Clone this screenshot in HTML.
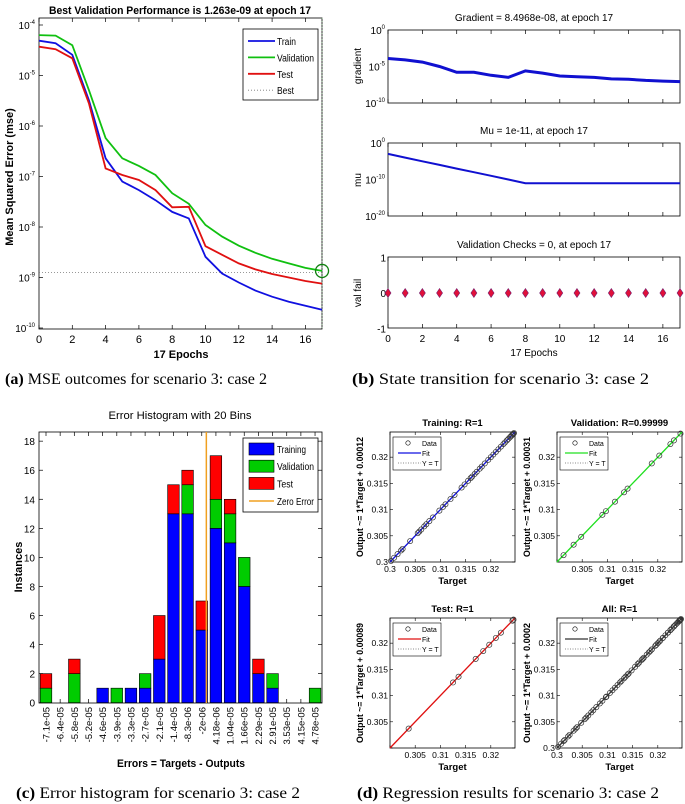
<!DOCTYPE html>
<html><head><meta charset="utf-8">
<style>
html,body{margin:0;padding:0;background:#fff;}
svg{display:block;font-family:"Liberation Sans",sans-serif;}
.cap{font-family:"Liberation Serif",serif;font-size:16px;fill:#000;}
</style></head>
<body>
<svg id="fig" width="685" height="804" viewBox="0 0 685 804" xmlns="http://www.w3.org/2000/svg">
<text class="cap" x="5" y="384" textLength="262" lengthAdjust="spacingAndGlyphs"><tspan font-weight="bold">(a)</tspan> MSE outcomes for scenario 3: case 2</text>
<text class="cap" x="352" y="384" textLength="297" lengthAdjust="spacingAndGlyphs"><tspan font-weight="bold">(b)</tspan> State transition for scenario 3: case 2</text>
<text class="cap" x="16" y="798" textLength="284" lengthAdjust="spacingAndGlyphs"><tspan font-weight="bold">(c)</tspan> Error histogram for scenario 3: case 2</text>
<text class="cap" x="357" y="798" textLength="302" lengthAdjust="spacingAndGlyphs"><tspan font-weight="bold">(d)</tspan> Regression results for scenario 3: case 2</text>
</svg>
<script>
// ---- (a) MSE data (log10 values) ----
const epochs = [0,1,2,3,4,5,6,7,8,9,10,11,12,13,14,15,16,17];
const trainLog = [-4.31,-4.36,-4.59,-5.49,-6.64,-7.10,-7.27,-7.47,-7.70,-7.83,-8.59,-8.92,-9.10,-9.26,-9.38,-9.48,-9.56,-9.64];
const valLog = [-4.20,-4.21,-4.40,-5.29,-6.24,-6.64,-6.79,-6.97,-7.33,-7.54,-7.96,-8.19,-8.37,-8.51,-8.63,-8.72,-8.81,-8.87];
const testLog = [-4.43,-4.48,-4.66,-5.55,-6.84,-6.97,-7.07,-7.27,-7.61,-7.60,-8.38,-8.55,-8.72,-8.84,-8.93,-9.00,-9.07,-9.12];
const bestLog = -8.899;
const bestEpoch = 17;
const mseTicksY = [-4,-5,-6,-7,-8,-9,-10];
const epochTicks = [0,2,4,6,8,10,12,14,16];
// ---- (b) state data ----
const gradLog = [-3.9,-4.1,-4.4,-5.0,-5.8,-5.8,-6.2,-6.5,-5.6,-5.9,-6.3,-6.4,-6.5,-6.7,-6.75,-6.9,-7.0,-7.07];
const muLog = [-3,-4,-5,-6,-7,-8,-9,-10,-11,-11,-11,-11,-11,-11,-11,-11,-11,-11];
const valFail = [0,0,0,0,0,0,0,0,0,0,0,0,0,0,0,0,0,0];
// ---- (c) histogram ----
const binLabels = ["-7.1e-05","-6.4e-05","-5.8e-05","-5.2e-05","-4.6e-05","-3.9e-05","-3.3e-05","-2.7e-05","-2.1e-05","-1.4e-05","-8.3e-06","-2e-06","4.18e-06","1.04e-05","1.66e-05","2.29e-05","2.91e-05","3.53e-05","4.15e-05","4.78e-05"];
const binCenters = [-7.1e-5,-6.4e-5,-5.8e-5,-5.2e-5,-4.6e-5,-3.9e-5,-3.3e-5,-2.7e-5,-2.1e-5,-1.4e-5,-8.3e-6,-2e-6,4.18e-6,1.04e-5,1.66e-5,2.29e-5,2.91e-5,3.53e-5,4.15e-5,4.78e-5];
const histTrain = [0,0,0,0,1,0,1,1,3,13,13,5,12,11,8,2,1,0,0,0];
const histVal =   [1,0,2,0,0,1,0,1,0,0,2,0,2,2,2,0,1,0,0,1];
const histTest =  [1,0,1,0,0,0,0,0,3,2,1,2,3,1,0,1,0,0,0,0];
const histTicksY = [0,2,4,6,8,10,12,14,16,18];
// ---- (d) regression ----
const regTicks = [0.3,0.305,0.31,0.315,0.32];
const trainTargets = [0.3002,0.3008,0.3015,0.3022,0.3025,0.3040,0.3055,0.3058,0.3062,0.3068,0.3072,0.3078,0.3085,0.3098,0.3105,0.3110,0.3120,0.3128,0.3142,0.3148,0.3155,0.3160,0.3163,0.3168,0.3172,0.3178,0.3182,0.3188,0.3195,0.3200,0.3205,0.3210,0.3215,0.3220,0.3225,0.3228,0.3232,0.3235,0.3238,0.3240,0.3242,0.3244,0.3245,0.3246];
const valTargets = [0.3013,0.3033,0.3048,0.3090,0.3097,0.3115,0.3133,0.3140,0.3188,0.3203,0.3225,0.3232,0.3245];
const testTargets = [0.3037,0.3125,0.3136,0.3170,0.3185,0.3197,0.3210,0.3220,0.3243,0.3245];

const NS = "http://www.w3.org/2000/svg";
const fig = document.getElementById('fig');
function mk(tag, attrs, parent){
  const e = document.createElementNS(NS, tag);
  for (const k in attrs) e.setAttribute(k, attrs[k]);
  (parent||fig).appendChild(e);
  return e;
}
function nm(el, name){
  
  
  return el;
}
function txt(x,y,s,size,opts){
  const o = Object.assign({x:x,y:y,'font-size':size,fill:'#000'}, opts||{});
  const t = mk('text', o);
  t.textContent = s;
  return t;
}
function pow10(x,y,exp,name){
  const t = mk('text',{x:x,y:y,'font-size':10,'text-anchor':'end',fill:'#000'});
  t.textContent = '10';
  const s = mk('tspan',{dy:-5,'font-size':6},t);
  s.textContent = exp;
  nm(t, name);
  return t;
}
function box(x0,y0,x1,y1,name){
  const r = mk('rect',{x:x0,y:y0,width:x1-x0,height:y1-y0,fill:'none',stroke:'#000','stroke-width':0.8});
  nm(r, name);
}

// ================= (a) =================
const aX = e => 39 + e*16.65;
const aY = l => 25 + (-4 - l)*50.5;
{
  nm(mk('g',{}), 'mse-chart');
  box(39,18,322,329,'mse-plot-area');
  for (const e of epochTicks){
    nm(mk('line',{x1:aX(e),x2:aX(e),y1:329,y2:325,stroke:'#000','stroke-width':0.7}),'x-tick');
    nm(mk('line',{x1:aX(e),x2:aX(e),y1:18,y2:22,stroke:'#000','stroke-width':0.7}),'x-tick-top');
    nm(txt(aX(e),343,String(e),11,{'text-anchor':'middle'}),'x-tick-label');
  }
  for (const l of mseTicksY){
    nm(mk('line',{x1:39,x2:43,y1:aY(l),y2:aY(l),stroke:'#000','stroke-width':0.7}),'y-tick');
    pow10(35,aY(l)+4,String(l),'y-tick-label');
  }
  nm(mk('line',{x1:39,x2:322,y1:aY(bestLog),y2:aY(bestLog),stroke:'#777','stroke-width':0.8,'stroke-dasharray':'1,2'}),'best-horizontal-line');
  nm(mk('line',{x1:aX(bestEpoch),x2:aX(bestEpoch),y1:18,y2:329,stroke:'#7a7','stroke-width':0.8,'stroke-dasharray':'1,2'}),'best-vertical-line');
  const series = [[trainLog,'#1010e0','train-line'],[valLog,'#10c010','validation-line'],[testLog,'#e01010','test-line']];
  for (const [d,c,n] of series){
    const pts = d.map((v,i)=>aX(epochs[i]).toFixed(1)+','+aY(v).toFixed(1)).join(' ');
    nm(mk('polyline',{points:pts,fill:'none',stroke:c,'stroke-width':1.8}),n);
  }
  nm(mk('circle',{cx:aX(bestEpoch),cy:aY(valLog[17]),r:6.5,fill:'none',stroke:'#108010','stroke-width':1.3}),'best-marker');
  nm(txt(180,14,'Best Validation Performance is 1.263e-09 at epoch 17',11,{'text-anchor':'middle','font-weight':'bold',textLength:262,lengthAdjust:'spacingAndGlyphs'}),'mse-title');
  nm(txt(181,358,'17 Epochs',11,{'text-anchor':'middle','font-weight':'bold'}),'x-axis-title');
  nm(txt(0,0,'Mean Squared Error  (mse)',11,{'text-anchor':'middle','font-weight':'bold',transform:'translate(13,177) rotate(-90)'}),'y-axis-title');
  box(243,29,318,100,'mse-legend');
  const leg = [['Train','#1010e0','',19],['Validation','#10c010','',37],['Test','#e01010','',16],['Best','#777','1,2',17]];
  leg.forEach((L,i)=>{
    const y = 41 + i*16.4;
    const ln = mk('line',{x1:248,x2:275,y1:y,y2:y,stroke:L[1],'stroke-width':L[2]?0.8:1.8});
    if (L[2]) ln.setAttribute('stroke-dasharray',L[2]);
    nm(ln,'legend-line');
    nm(txt(277,y+4,L[0],10,{textLength:L[3],lengthAdjust:'spacingAndGlyphs'}),'legend-entry');
  });
}

// ================= (b) =================
const bX = e => 388 + e*17.18;
const gY = l => 30 + (-l)*7.3;
const mY = l => 143 + (-l)*3.65;
const vY = v => 293 - v*35.5;
{
  nm(mk('g',{}),'state-chart');
  const panels = [[30,103,'gradient-panel'],[143,216,'mu-panel'],[257,328,'val-fail-panel']];
  for (const [t,b,n] of panels){
    box(388,t,680,b,n);
    for (let e=0;e<=16;e+=2){
      nm(mk('line',{x1:bX(e),x2:bX(e),y1:b,y2:b-4,stroke:'#000','stroke-width':0.7}),'x-tick');
      nm(mk('line',{x1:bX(e),x2:bX(e),y1:t,y2:t+4,stroke:'#000','stroke-width':0.7}),'x-tick-top');
    }
  }
  for (let e=0;e<=16;e+=2) nm(txt(bX(e),342,String(e),10,{'text-anchor':'middle'}),'x-tick-label');
  nm(txt(534,356,'17 Epochs',10,{'text-anchor':'middle'}),'x-axis-title');
  [0,-5,-10].forEach(l=>pow10(385,gY(l)+4,String(l),'gradient-tick-label'));
  [0,-10,-20].forEach(l=>pow10(385,mY(l)+4,String(l),'mu-tick-label'));
  [1,0,-1].forEach(v=>nm(txt(386,vY(v)+4,String(v),10,{'text-anchor':'end'}),'val-tick-label'));
  nm(txt(534,21,'Gradient = 8.4968e-08, at epoch 17',10,{'text-anchor':'middle'}),'gradient-title');
  nm(txt(534,134,'Mu = 1e-11, at epoch 17',10,{'text-anchor':'middle'}),'mu-title');
  nm(txt(534,248,'Validation Checks = 0, at epoch 17',10,{'text-anchor':'middle'}),'val-title');
  nm(txt(0,0,'gradient',10,{'text-anchor':'middle',transform:'translate(361,66) rotate(-90)'}),'gradient-axis-title');
  nm(txt(0,0,'mu',10,{'text-anchor':'middle',transform:'translate(361,180) rotate(-90)'}),'mu-axis-title');
  nm(txt(0,0,'val fail',10,{'text-anchor':'middle',transform:'translate(361,293) rotate(-90)'}),'val-axis-title');
  const gp = gradLog.map((v,i)=>bX(epochs[i]).toFixed(1)+','+gY(v).toFixed(1)).join(' ');
  nm(mk('polyline',{points:gp,fill:'none',stroke:'#1010d0','stroke-width':3}),'gradient-line');
  const mp = muLog.map((v,i)=>bX(epochs[i]).toFixed(1)+','+mY(v).toFixed(1)).join(' ');
  nm(mk('polyline',{points:mp,fill:'none',stroke:'#1010d0','stroke-width':2}),'mu-line');
  valFail.forEach((v,i)=>{
    const x=bX(epochs[i]), y=vY(v);
    nm(mk('polygon',{points:`${x},${y-4.5} ${x+3},${y} ${x},${y+4.5} ${x-3},${y}`,fill:'#e0103a',stroke:'#702070','stroke-width':0.6}),'val-fail-point');
  });
}

// ================= (c) =================
const cX = i => 46 + i*14.16;
const cY = v => 702.7 - v*14.53;
{
  nm(mk('g',{}),'histogram-chart');
  box(39,432,322,703,'histogram-plot-area');
  for (const v of histTicksY){
    nm(mk('line',{x1:39,x2:43,y1:cY(v),y2:cY(v),stroke:'#000','stroke-width':0.7}),'y-tick');
    nm(mk('line',{x1:322,x2:318,y1:cY(v),y2:cY(v),stroke:'#000','stroke-width':0.7}),'y-tick-right');
    nm(txt(35,cY(v)+4,String(v),10,{'text-anchor':'end'}),'y-tick-label');
  }
  binLabels.forEach((lab,i)=>{
    const x = cX(i);
    nm(mk('line',{x1:x,x2:x,y1:703,y2:699,stroke:'#000','stroke-width':0.7}),'x-tick');
    nm(mk('line',{x1:x,x2:x,y1:432,y2:436,stroke:'#000','stroke-width':0.7}),'x-tick-top');
    nm(txt(0,0,lab,9.5,{'text-anchor':'end',transform:`translate(${x+3.5},707) rotate(-90)`}),'x-tick-label');
    const segs = [[histTrain[i],'#0000ff','bar-training'],[histVal[i],'#00cc00','bar-validation'],[histTest[i],'#ff0000','bar-test']];
    let base = 0;
    for (const [v,c,n] of segs){
      if (v>0){
        nm(mk('rect',{x:x-5.8,y:cY(base+v),width:11.6,height:cY(base)-cY(base+v),fill:c,stroke:'#000','stroke-width':0.6}),n);
      }
      base += v;
    }
  });
  let zi = 0;
  for (let i=0;i<binCenters.length-1;i++){
    if (binCenters[i]<=0 && binCenters[i+1]>0) zi = i + (0-binCenters[i])/(binCenters[i+1]-binCenters[i]);
  }
  nm(mk('line',{x1:cX(zi),x2:cX(zi),y1:432,y2:703,stroke:'#f0a020','stroke-width':1.5}),'zero-error-line');
  nm(txt(180,419,'Error Histogram with 20 Bins',11,{'text-anchor':'middle',textLength:143,lengthAdjust:'spacingAndGlyphs'}),'histogram-title');
  nm(txt(181,767,'Errors = Targets - Outputs',11,{'text-anchor':'middle','font-weight':'bold',textLength:128,lengthAdjust:'spacingAndGlyphs'}),'x-axis-title');
  nm(txt(0,0,'Instances',11,{'text-anchor':'middle','font-weight':'bold',transform:'translate(22,567) rotate(-90)'}),'y-axis-title');
  box(243,438,318,512,'histogram-legend');
  const leg=[['Training','#0000ff',29],['Validation','#00cc00',37],['Test','#ff0000',16]];
  leg.forEach((L,i)=>{
    const y = 443 + i*17.2;
    nm(mk('rect',{x:249,y:y,width:25,height:12,fill:L[1],stroke:'#000','stroke-width':0.6}),'legend-swatch');
    nm(txt(277,y+10,L[0],10,{textLength:L[2],lengthAdjust:'spacingAndGlyphs'}),'legend-entry');
  });
  nm(mk('line',{x1:249,x2:274,y1:501,y2:501,stroke:'#f0a020','stroke-width':1.5}),'legend-line');
  nm(txt(277,505,'Zero Error',10,{textLength:37,lengthAdjust:'spacingAndGlyphs'}),'legend-entry');
}

// ================= (d) =================
function reg(ox, oy, title, ylab, color, targets, xt, yt, pname){
  nm(mk('g',{}),pname);
  const w=125,h=130, lo=0.3, hi=0.3248;
  const X = v => ox + (v-lo)/(hi-lo)*w;
  const Y = v => oy + h - (v-lo)/(hi-lo)*h;
  box(ox,oy,ox+w,oy+h,pname+'-area');
  for (const t of regTicks){
    nm(mk('line',{x1:X(t),x2:X(t),y1:oy+h,y2:oy+h-3,stroke:'#000','stroke-width':0.6}),'x-tick');
    nm(mk('line',{x1:X(t),x2:X(t),y1:oy,y2:oy+3,stroke:'#000','stroke-width':0.6}),'x-tick-top');
    nm(mk('line',{x1:ox,x2:ox+3,y1:Y(t),y2:Y(t),stroke:'#000','stroke-width':0.6}),'y-tick');
    nm(mk('line',{x1:ox+w,x2:ox+w-3,y1:Y(t),y2:Y(t),stroke:'#000','stroke-width':0.6}),'y-tick-right');
  }
  for (const t of xt) nm(txt(X(t),oy+h+10,String(t),8.5,{'text-anchor':'middle'}),'x-tick-label');
  for (const t of yt) nm(txt(ox-2,Y(t)+3,String(t),8.5,{'text-anchor':'end'}),'y-tick-label');
  nm(mk('line',{x1:X(lo),y1:Y(lo),x2:X(hi),y2:Y(hi),stroke:'#666','stroke-width':0.8,'stroke-dasharray':'1,2'}),'identity-line');
  nm(mk('line',{x1:X(lo),y1:Y(lo),x2:X(hi),y2:Y(hi),stroke:color,'stroke-width':1.3}),'fit-line');
  for (const t of targets){
    nm(mk('circle',{cx:X(t),cy:Y(t),r:2.6,fill:'none',stroke:'#333','stroke-width':0.7}),'data-point');
  }
  nm(txt(ox+w/2,oy-6,title,9.5,{'text-anchor':'middle','font-weight':'bold'}),'subplot-title');
  nm(txt(ox+w/2,oy+h+22,'Target',9.5,{'text-anchor':'middle','font-weight':'bold'}),'x-axis-title');
  nm(txt(0,0,ylab,9.5,{'text-anchor':'middle','font-weight':'bold',transform:`translate(${ox-27},${oy+h/2}) rotate(-90)`,textLength:120,lengthAdjust:'spacingAndGlyphs'}),'y-axis-title');
  nm(mk('rect',{x:ox+3,y:oy+5,width:48,height:33,fill:'#fff',stroke:'#000','stroke-width':0.6}),'legend-box');
  nm(mk('circle',{cx:ox+18,cy:oy+11,r:2.2,fill:'none',stroke:'#000','stroke-width':0.6}),'legend-marker');
  nm(txt(ox+32,oy+14,'Data',7),'legend-entry');
  nm(mk('line',{x1:ox+8,x2:ox+31,y1:oy+21,y2:oy+21,stroke:color,'stroke-width':1.2}),'legend-line');
  nm(txt(ox+32,oy+24,'Fit',7),'legend-entry');
  nm(mk('line',{x1:ox+8,x2:ox+31,y1:oy+31,y2:oy+31,stroke:'#666','stroke-width':0.7,'stroke-dasharray':'1,1.5'}),'legend-line');
  nm(txt(ox+32,oy+34,'Y = T',7),'legend-entry');
}
const allTargets = trainTargets.concat(valTargets, testTargets);
reg(390,432,'Training: R=1','Output ~= 1*Target + 0.00012','#1010e0',trainTargets,[0.3,0.305,0.31,0.315,0.32],[0.3,0.305,0.31,0.315,0.32],'regression-training');
reg(557,432,'Validation: R=0.99999','Output ~= 1*Target + 0.00031','#20e020',valTargets,[0.305,0.31,0.315,0.32],[0.305,0.31,0.315,0.32],'regression-validation');
reg(390,618,'Test: R=1','Output ~= 1*Target + 0.00089','#e01010',testTargets,[0.305,0.31,0.315,0.32],[0.305,0.31,0.315,0.32],'regression-test');
reg(557,618,'All: R=1','Output ~= 1*Target + 0.0002','#333',allTargets,[0.3,0.305,0.31,0.315,0.32],[0.3,0.305,0.31,0.315,0.32],'regression-all');
</script>
</body></html>
